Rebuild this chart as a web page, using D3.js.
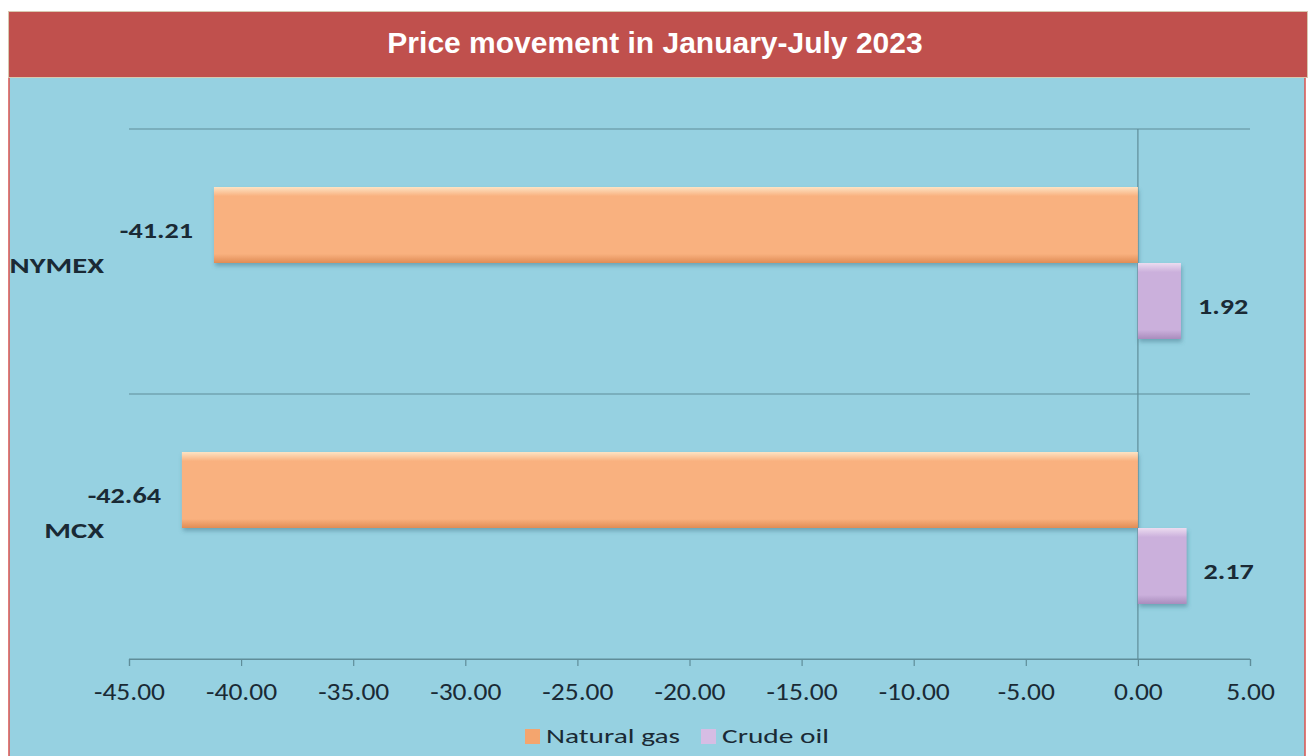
<!DOCTYPE html>
<html>
<head>
<meta charset="utf-8">
<script src="https://cdn.jsdelivr.net/npm/d3@7"></script>
<style>
  body { margin: 0; background: #fff; }
  svg { display: block; }
</style>
</head>
<body>
<div id="chart"></div>
<script>
// chart values
const categories = ['NYMEX', 'MCX'];
const seriesNames = ['Natural gas', 'Crude oil'];
const naturalGas = [-41.21, -42.64];
const crudeOil = [1.92, 2.17];
const tickValues = [-45, -40, -35, -30, -25, -20, -15, -10, -5, 0, 5];

const width = 1310, height = 756;
const labelFont = 'Carlito, Lato, "Open Sans", sans-serif';
const ink = '#1a2a35';

const svg = d3.select('#chart').append('svg')
    .attr('width', width)
    .attr('height', height);

const defs = svg.append('defs');

function bevel(id, light, mid, dark) {
    const g = defs.append('linearGradient')
        .attr('id', id).attr('x1', 0).attr('y1', 0).attr('x2', 0).attr('y2', 1);
    g.append('stop').attr('offset', '0%').attr('stop-color', light);
    g.append('stop').attr('offset', '12%').attr('stop-color', mid);
    g.append('stop').attr('offset', '88%').attr('stop-color', mid);
    g.append('stop').attr('offset', '100%').attr('stop-color', dark);
}
bevel('gasGrad', '#fde3c4', '#f9b17f', '#e08c55');
bevel('oilGrad', '#ecdcf0', '#cbb0dc', '#a98cbd');

const shadow = defs.append('filter').attr('id', 'shadow')
    .attr('x', '-10%').attr('y', '-10%').attr('width', '120%').attr('height', '130%');
shadow.append('feDropShadow')
    .attr('dx', 1).attr('dy', 3).attr('stdDeviation', 2)
    .attr('flood-color', '#3b6f80').attr('flood-opacity', 0.45);

// text drawn a bit wider than the font, like the stretched original
function wideText(parent, x, y, sx, anchor, font, str) {
    return parent.append('text')
        .attr('transform', 'translate(' + x + ',' + y + ') scale(' + sx + ',1)')
        .attr('text-anchor', anchor)
        .attr('fill', ink)
        .style('font', font)
        .text(str);
}

// panel + header
svg.append('rect')
    .attr('x', 9).attr('y', 77).attr('width', 1296).attr('height', 690)
    .attr('fill', '#96d1e1').attr('stroke', '#d9534f').attr('stroke-width', 1.5);

svg.append('rect')
    .attr('x', 8.5).attr('y', 11.5).attr('width', 1299).attr('height', 66)
    .attr('fill', '#c0504d').attr('stroke', '#d8c8b0').attr('stroke-width', 1);

svg.append('text')
    .attr('x', 655).attr('y', 53)
    .attr('text-anchor', 'middle')
    .attr('fill', '#fff')
    .style('font', 'bold 30px "Liberation Sans", Arial, sans-serif')
    .text('Price movement in January-July 2023');

// scales
const x = d3.scaleLinear().domain([-45, 5]).range([129, 1250]);
const y0 = d3.scaleBand().domain(categories).range([129, 659]);
const y1 = d3.scaleBand().domain(seriesNames).range([58, 210]);

const plot = svg.append('g');

// category gridlines
plot.selectAll('line.grid')
    .data(y0.domain().map(d => y0(d)).concat([659]))
    .enter().append('line')
    .attr('class', 'grid')
    .attr('x1', x(-45)).attr('x2', x(5))
    .attr('y1', d => d).attr('y2', d => d)
    .attr('stroke', '#5f8d99').attr('stroke-width', 1.2);

// zero line
plot.append('line')
    .attr('x1', x(0)).attr('x2', x(0))
    .attr('y1', 129).attr('y2', 659)
    .attr('stroke', '#5f8d99').attr('stroke-width', 1.2);

// x axis (plain hyphen minus, as in the original)
const xAxis = plot.append('g')
    .attr('transform', 'translate(0,659)')
    .call(d3.axisBottom(x).tickValues(tickValues).tickSize(7).tickFormat(d => d.toFixed(2)));
xAxis.select('.domain').attr('stroke', '#5f8d99').attr('stroke-width', 1.2);
xAxis.selectAll('.tick line').attr('stroke', '#5f8d99').attr('stroke-width', 1.2);
xAxis.selectAll('.tick text')
    .attr('y', 41).attr('dy', 0)
    .attr('transform', 'scale(1.1,1)')
    .attr('fill', ink)
    .style('font', '25px ' + labelFont);

// bars
const rows = [];
categories.forEach((c, i) => {
    rows.push({ cat: c, series: 'Natural gas', value: naturalGas[i], grad: 'gasGrad' });
    rows.push({ cat: c, series: 'Crude oil', value: crudeOil[i], grad: 'oilGrad' });
});

plot.selectAll('rect.bar')
    .data(rows)
    .enter().append('rect')
    .attr('class', 'bar')
    .attr('x', d => x(Math.min(0, d.value)))
    .attr('width', d => Math.abs(x(d.value) - x(0)))
    .attr('y', d => y0(d.cat) + y1(d.series))
    .attr('height', y1.bandwidth())
    .attr('fill', d => 'url(#' + d.grad + ')')
    .attr('filter', 'url(#shadow)');

// value labels
rows.forEach(d => {
    const neg = d.value < 0;
    const cy = y0(d.cat) + y1(d.series) + y1.bandwidth() / 2;
    wideText(plot, neg ? x(d.value) - 21 : x(d.value) + 17, cy + 13, 1.28,
        neg ? 'end' : 'start', 'bold 22px ' + labelFont, d.value.toFixed(2));
});

// category labels
categories.forEach(c => {
    wideText(plot, 104, y0(c) + y0.bandwidth() / 2 + 11, 1.33, 'end',
        'bold 23px ' + labelFont, c);
});

// legend
const legendColors = ['#f4a56e', '#d6bde4'];
const lx = [525, 701];
const legend = svg.append('g');
seriesNames.forEach((s, i) => {
    legend.append('rect')
        .attr('x', lx[i]).attr('y', 729).attr('width', 15).attr('height', 15)
        .attr('fill', legendColors[i]);
    wideText(legend, lx[i] + 21, 743, 1.4, 'start', '500 21px ' + labelFont, s);
});
</script>
</body>
</html>
